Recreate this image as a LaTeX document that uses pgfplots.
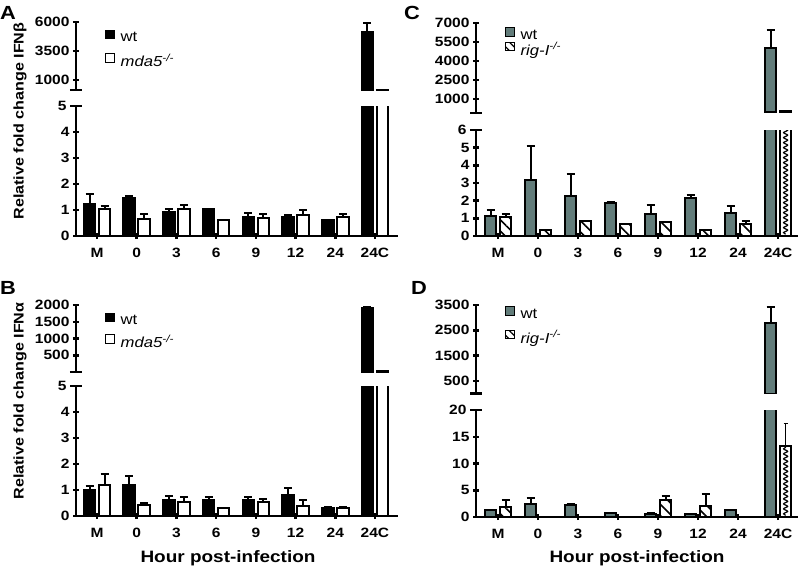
\documentclass[border=0pt]{standalone}
\usepackage{fontspec}
\setmainfont{Liberation Sans}[FakeStretch=1.15]
\usepackage{pgfplots}
\pgfplotsset{compat=1.18}
\usetikzlibrary{patterns.meta,decorations.pathmorphing}
\definecolor{wtgray}{RGB}{98,124,122}

\pgfplotsset{
  base/.style={scale only axis, axis on top,
    tick style={line width=2.5pt,black}, major tick length=6pt, tick align=outside,
    tick label style={font=\fontsize{13.5}{14}\selectfont\bfseries},
    xticklabel style={yshift=-6pt},
    /pgf/number format/assume math mode=true, /pgf/number format/1000 sep={},
    scaled ticks=false, width=322pt, anchor=south west,
    legend cell align=left},
  lower/.style={base, axis x line=bottom, axis y line=left, axis line style={line width=2.5pt,-},
    xtick={0,...,7}, xticklabels={M,0,3,6,9,12,24,24C}, ymin=0,
    extra y tick style={tick align=center, major tick length=12pt}},
  upper/.style={base, axis x line=none, axis y line=left, axis line style={line width=2.5pt,-},
    extra y tick style={tick align=center, major tick length=12pt}, extra y tick labels={}},
  errs/.style={error bars/y dir=plus, error bars/y explicit, error bars/error mark=|,
    error bars/error bar style={line width=2pt, black},
    error bars/error mark options={line width=2pt, black, mark size=4pt}},
  barK/.style={ybar, bar width=11.5pt, bar shift=0pt, xshift=-7.5pt, draw=black, line width=2pt, fill=black, errs},
  barG/.style={ybar, bar width=11.5pt, bar shift=0pt, xshift=-7.5pt, draw=black, line width=2pt, fill=wtgray, errs},
  barW/.style={ybar, bar width=11.5pt, bar shift=0pt, xshift=7.5pt, draw=black, line width=2pt, fill=white, errs},
  barH/.style={ybar, bar width=11.5pt, bar shift=0pt, xshift=7.5pt, draw=black, line width=2pt,
    preaction={fill=white}, pattern={Lines[angle=-45,distance=8pt,line width=1.6pt]}, errs},
  leg/.style={legend style={at={(axis description cs:#1)}, anchor=north west, draw=none, fill=none,
    font=\fontsize{14.5}{16}\selectfont, inner sep=0pt, column sep=5pt, nodes={inner sep=1pt}}},
  sqK/.style={legend image code/.code={\draw[fill=black,draw=black,line width=1pt] (0pt,-1pt) rectangle (8.5pt,7.5pt);}},
  sqW/.style={legend image code/.code={\draw[fill=white,draw=black,line width=1pt] (0pt,-1pt) rectangle (8.5pt,7.5pt);}},
  sqG/.style={legend image code/.code={\draw[fill=wtgray,draw=black,line width=1pt] (0pt,-1pt) rectangle (8.5pt,7.5pt);}},
  sqH/.style={legend image code/.code={\draw[preaction={fill=white},pattern={Lines[angle=-45,distance=6pt,line width=1.3pt]},draw=black,line width=1pt] (0pt,-1pt) rectangle (8.5pt,7.5pt);}},
}

\begin{document}
\begin{tikzpicture}
\useasboundingbox (0pt,0pt) rectangle (800pt,-568pt);

% ---------------- Panel A ----------------
\begin{axis}[upper, at={(76pt,-90pt)}, height=68pt, xmin=-0.53, xmax=7.58,
  ymin=140, ymax=6000, ytick={1000,3500,6000}, extra y ticks={140},
  leg={0.09,0.89}, legend style={row sep=9pt}]
\addlegendimage{sqK}\addlegendentry{wt}
\addlegendimage{sqW}\addlegendentry{\textit{mda5}\textsuperscript{\textit{-/-}}}
\addplot[forget plot, barK] coordinates {(7,5100) +- (0,850)};
\addplot[forget plot, barW] coordinates {(7,155) +- (0,0)};
\end{axis}
% lower segment: the 24C bars continue into the upper segment (clipped here)
\begin{axis}[lower, at={(76pt,-236pt)}, height=130pt, xmin=-0.53, xmax=7.58,
  ymax=5, ytick={0,1,2,3,4}, extra y ticks={5}]
\addplot[barK] coordinates {(0,1.23) +- (0,0.39) (1,1.45) +- (0,0.09) (2,0.94) +- (0,0.09)
  (3,1.03) +- (0,0.01) (4,0.73) +- (0,0.17) (5,0.72) +- (0,0.09) (6,0.62) +- (0,0) (7,140) +- (0,0)};
\addplot[barW] coordinates {(0,1.05) +- (0,0.10) (1,0.64) +- (0,0.19) (2,1.04) +- (0,0.14)
  (3,0.62) +- (0,0) (4,0.71) +- (0,0.12) (5,0.81) +- (0,0.19) (6,0.72) +- (0,0.13) (7,140) +- (0,0)};
\end{axis}

% ---------------- Panel B ----------------
\begin{axis}[upper, at={(76pt,-372pt)}, height=67pt, xmin=-0.53, xmax=7.58,
  ymin=0, ymax=2000, ytick={500,1000,1500,2000}, extra y ticks={0},
  leg={0.09,0.887}, legend style={row sep=7pt}]
\addlegendimage{sqK}\addlegendentry{wt}
\addlegendimage{sqW}\addlegendentry{\textit{mda5}\textsuperscript{\textit{-/-}}}
\addplot[forget plot, barK] coordinates {(7,1900) +- (0,45)};
\addplot[forget plot, barW] coordinates {(7,25) +- (0,0)};
\end{axis}
\begin{axis}[lower, at={(76pt,-516pt)}, height=130pt, xmin=-0.53, xmax=7.58,
  ymax=5, ytick={0,1,2,3,4}, extra y ticks={5}]
\addplot[barK] coordinates {(0,1.00) +- (0,0.15) (1,1.19) +- (0,0.35) (2,0.62) +- (0,0.15)
  (3,0.62) +- (0,0.10) (4,0.62) +- (0,0.10) (5,0.81) +- (0,0.28) (6,0.32) +- (0,0.03) (7,100) +- (0,0)};
\addplot[barW] coordinates {(0,1.19) +- (0,0.43) (1,0.42) +- (0,0.09) (2,0.55) +- (0,0.17)
  (3,0.32) +- (0,0) (4,0.55) +- (0,0.10) (5,0.40) +- (0,0.22) (6,0.32) +- (0,0.03) (7,25) +- (0,0)};
\end{axis}

% ---------------- Panel C ----------------
\begin{axis}[upper, at={(476pt,-113pt)}, height=90pt, xmin=-0.55, xmax=7.5,
  ymin=-100, ymax=7000, ytick={1000,2500,4000,5500,7000}, extra y ticks={-100},
  leg={0.09,0.957}, legend style={row sep=0pt}]
\addlegendimage{sqG}\addlegendentry{wt}
\addlegendimage{sqH}\addlegendentry{\textit{rig-I}\textsuperscript{\textit{-/-}}}
\addplot[forget plot, barG] coordinates {(7,5050) +- (0,1420)};
\addplot[forget plot, barW] coordinates {(7,50) +- (0,0)};
\end{axis}
\begin{axis}[lower, at={(476pt,-236pt)}, height=106pt, xmin=-0.55, xmax=7.5,
  ymax=6, ytick={0,1,2,3,4,5}, extra y ticks={6}]
\addplot[barG] coordinates {(0,1.15) +- (0,0.35) (1,3.17) +- (0,1.93) (2,2.26) +- (0,1.24)
  (3,1.85) +- (0,0.07) (4,1.25) +- (0,0.52) (5,2.13) +- (0,0.19) (6,1.28) +- (0,0.42) (7,100) +- (0,0)};
\addplot[barH] coordinates {(0,1.06) +- (0,0.19) (1,0.34) +- (0,0) (2,0.87) +- (0,0)
  (3,0.70) +- (0,0) (4,0.77) +- (0,0) (5,0.34) +- (0,0) (6,0.66) +- (0,0.21)};
\addplot[barW] coordinates {(7,50) +- (0,0)};
\addplot[line width=1.2pt, decorate, decoration={snake, amplitude=2pt, segment length=5pt}]
  coordinates {(7.19,0.1) (7.19,6.2)};
\end{axis}

% ---------------- Panel D ----------------
\begin{axis}[upper, at={(476pt,-393.5pt)}, height=88.5pt, xmin=-0.55, xmax=7.5,
  ymin=0, ymax=3500, ytick={500,1500,2500,3500}, extra y ticks={0},
  leg={0.09,0.99}, legend style={row sep=9pt}]
\addlegendimage{sqG}\addlegendentry{wt}
\addlegendimage{sqH}\addlegendentry{\textit{rig-I}\textsuperscript{\textit{-/-}}}
\addplot[forget plot, barG] coordinates {(7,2790) +- (0,630)};
\end{axis}
\begin{axis}[lower, at={(476pt,-517pt)}, height=107pt, xmin=-0.55, xmax=7.5,
  ymax=20, ytick={0,5,10,15}, extra y ticks={20}]
\addplot[barG] coordinates {(0,1.25) +- (0,0) (1,2.40) +- (0,1.15) (2,2.25) +- (0,0.25)
  (3,0.75) +- (0,0) (4,0.50) +- (0,0.30) (5,0.62) +- (0,0) (6,1.25) +- (0,0) (7,100) +- (0,0)};
\addplot[barH] coordinates {(0,1.90) +- (0,1.35) (4,3.25) +- (0,0.65) (5,2.10) +- (0,2.15)};
\addplot[ybar, bar width=11.5pt, bar shift=0pt, xshift=7.5pt, draw=black, line width=2pt, fill=white,
  error bars/y dir=plus, error bars/y explicit, error bars/error mark=|,
  error bars/error bar style={line width=0.8pt, black},
  error bars/error mark options={line width=1pt, black, mark size=2pt}] coordinates {(7,13.3) +- (0,4.2)};
\addplot[line width=1.2pt, decorate, decoration={snake, amplitude=2pt, segment length=5pt}]
  coordinates {(7.19,0.3) (7.19,13.1)};
\end{axis}

% ---------------- Labels ----------------
\node[font=\fontsize{19}{20}\selectfont\bfseries] at (8pt,-12.5pt) {A};
\node[font=\fontsize{19}{20}\selectfont\bfseries] at (8pt,-288pt) {B};
\node[font=\fontsize{19}{20}\selectfont\bfseries] at (412pt,-12.5pt) {C};
\node[font=\fontsize{19}{20}\selectfont\bfseries] at (419pt,-288pt) {D};
\node[rotate=90, font=\fontsize{14}{16}\selectfont\bfseries] at (20pt,-121pt) {Relative fold change IFNβ};
\node[rotate=90, font=\fontsize{14}{16}\selectfont\bfseries] at (20pt,-401pt) {Relative fold change IFNα};
\node[font=\fontsize{16.5}{18}\selectfont\bfseries] at (228pt,-558pt) {Hour post-infection};
\node[font=\fontsize{16.5}{18}\selectfont\bfseries] at (637pt,-558pt) {Hour post-infection};
\end{tikzpicture}
\end{document}
